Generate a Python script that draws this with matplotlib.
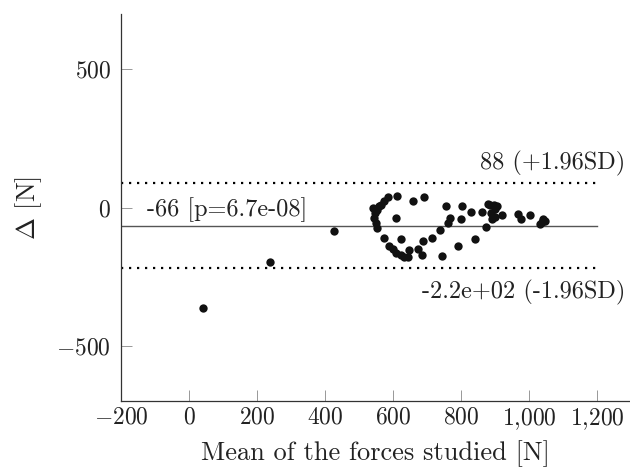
import numpy as np
import matplotlib
matplotlib.use('Agg')
import matplotlib.pyplot as plt
from matplotlib.ticker import FuncFormatter

plt.rcParams['font.family'] = 'cmr10'
plt.rcParams['mathtext.fontset'] = 'cm'
plt.rcParams['axes.formatter.use_mathtext'] = True

# mean of the two forces [N]
mean_force = [41, 239, 426,
              542, 546, 544, 549, 554, 552, 558, 564, 574, 586, 613, 610, 658, 691,
              574, 589, 599, 610, 623, 633, 643, 648, 625, 674, 684, 689, 715, 739,
              743, 755, 767, 762, 792, 800, 804, 829, 840, 862, 874, 879, 891, 896,
              888, 906, 900, 885, 899, 922, 968, 976, 1004, 1031, 1041, 1046, 1038]
# difference between the two forces [N]
delta = [-364, -197, -84,
         -2, -20, -38, -56, -74, -10, 5, 11, 23, 39, 43, -38, 24, 37,
         -109, -139, -151, -164, -172, -178, -178, -154, -112, -151, -172, -122, -110, -81,
         -175, 5, -38, -56, -139, -42, 5, -16, -112, -15, -72, 12, -42, 11,
         -20, 7, -5, 8, -35, -26, -24, -42, -26, -59, -42, -50, -52]

bias = -66
upper = 88
lower = -220

fig = plt.figure(figsize=(6.3, 4.68), dpi=100)
ax = fig.add_axes([0.192, 0.143, 0.808, 0.827])

ax.scatter(mean_force, delta, s=36, color='#111111', linewidths=0, zorder=3)
ax.plot([-200, 1200], [bias, bias], color='#555555', lw=1.0)
ax.plot([-200, 1200], [upper, upper], color='black', lw=1.6, linestyle=(0, (1, 2.6)))
ax.plot([-200, 1200], [lower, lower], color='black', lw=1.6, linestyle=(0, (1, 2.6)))

fs = 17
afs = 17.5
ax.text(1283, 113, '88 (+1.96SD)', ha='right', va='bottom', fontsize=afs, color='#222222')
ax.text(1283, -262, '-2.2e+02 (-1.96SD)', ha='right', va='top', fontsize=afs, color='#222222')
ax.text(-124, -7, '-66 [p=6.7e-08]', ha='left', va='center', fontsize=afs, color='#222222')

ax.set_xlim(-200, 1297)
ax.set_ylim(-700, 700)
ax.set_xticks([-200, 0, 200, 400, 600, 800, 1000, 1200])
ax.set_yticks([-500, 0, 500])


def fmt(v, pos):
    s = '{:,.0f}'.format(abs(v)).replace(',', '{,}')
    return '$-' + s + '$' if v < 0 else '$' + s + '$'


ax.xaxis.set_major_formatter(FuncFormatter(fmt))
ax.yaxis.set_major_formatter(FuncFormatter(fmt))
ax.tick_params(direction='in', length=8, width=0.6, color='#888888', labelsize=fs,
               labelcolor='#222222')
ax.tick_params(axis='x', pad=4)
ax.tick_params(axis='y', pad=7)

for side in ['top', 'right']:
    ax.spines[side].set_visible(False)
for side in ['left', 'bottom']:
    ax.spines[side].set_color('#333333')
    ax.spines[side].set_linewidth(0.9)

ax.set_xlabel('Mean of the forces studied [N]', fontsize=19, color='#222222', labelpad=6)
ax.set_ylabel(r'$\Delta$ [N]', fontsize=19, color='#222222', labelpad=9)

fig.savefig('out.png', dpi=100)
